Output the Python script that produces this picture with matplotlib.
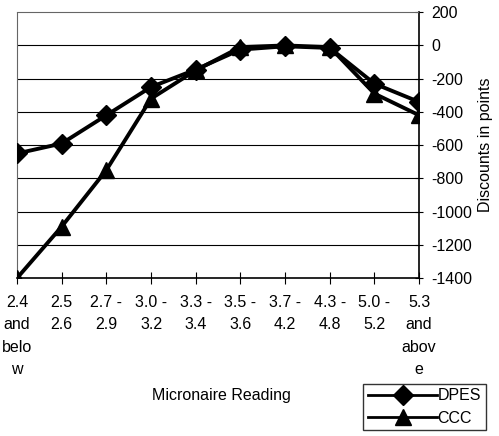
import numpy as np
import matplotlib
matplotlib.use('Agg')
from matplotlib import pyplot as plt

plt.rcParams['font.family'] = ['Liberation Sans', 'DejaVu Sans']

categories = ['2.4\nand\nbelo\nw', '2.5\n2.6', '2.7 -\n2.9', '3.0 -\n3.2', '3.3 -\n3.4',
              '3.5 -\n3.6', '3.7 -\n4.2', '4.3 -\n4.8', '5.0 -\n5.2', '5.3\nand\nabov\ne']
dpes = [-650, -590, -420, -250, -145, -25, -5, -15, -230, -340]
ccc = [-1400, -1090, -750, -320, -150, -10, 0, -10, -290, -420]
yticks = list(range(-1400, 201, 200))


def main():
	fig = plt.figure(figsize=(4.99, 4.36), dpi=100)
	ax = fig.add_axes([0.034, 0.362, 0.806, 0.61])
	x = np.arange(len(categories))

	for y in yticks[1:-1]:
		ax.axhline(y, color='black', lw=0.8, zorder=1)

	ax.plot(x, dpes, color='black', lw=2.8, marker='D', ms=10, label='DPES', zorder=3)
	ax.plot(x, ccc, color='black', lw=2.8, marker='^', ms=11, label='CCC', zorder=3)

	ax.set_xlim(0, 9)
	ax.set_ylim(-1400, 200)

	# frame: dotted top/left, solid right and bottom
	ax.spines['top'].set_linestyle((0, (1, 1)))
	ax.spines['top'].set_color('0.4')
	ax.spines['left'].set_linestyle((0, (1, 1)))
	ax.spines['left'].set_color('0.4')
	ax.spines['right'].set_linewidth(1.2)
	ax.spines['bottom'].set_linewidth(1.2)

	ax.yaxis.tick_right()
	ax.yaxis.set_label_position('right')
	ax.set_yticks(yticks)
	ax.set_yticklabels([str(v) for v in yticks], fontsize=11.5)
	ax.tick_params(axis='y', direction='inout', length=6, pad=6)
	ax.tick_params(axis='y', which='both', left=False)

	ax.set_xticks(x)
	ax.set_xticklabels(categories, fontsize=11.5, linespacing=1.62, va='top')
	ax.tick_params(axis='x', direction='inout', length=8, pad=8)

	ax.set_ylabel('Discounts in points', fontsize=11.5, labelpad=4)
	fig.text(0.443, 0.093, 'Micronaire Reading', fontsize=11.5, ha='center', va='center')

	leg = ax.legend(loc='upper right', bbox_to_anchor=(0.974, 0.12), bbox_transform=fig.transFigure,
					fontsize=11.5, frameon=True, fancybox=False, edgecolor='black',
					handlelength=4.3, handletextpad=0.05, borderpad=0.3, labelspacing=0.45,
					borderaxespad=0)
	leg.get_frame().set_linewidth(1.0)
	for h in leg.legend_handles:
		h.set_linewidth(2)

	fig.savefig('out.png', dpi=100)


main()
